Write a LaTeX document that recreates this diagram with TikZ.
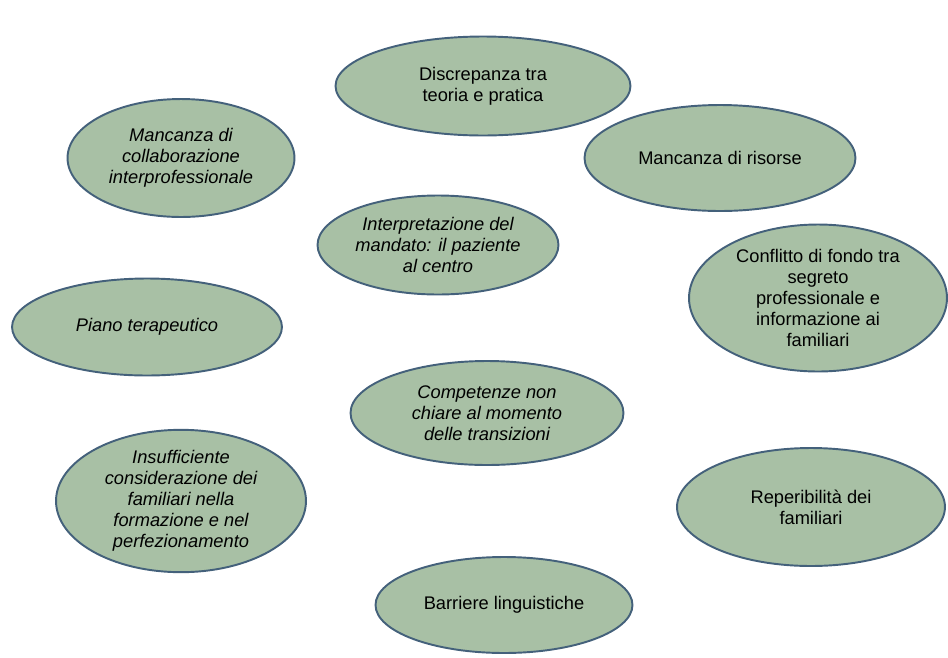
\documentclass[tikz,border=0pt]{standalone}
\usepackage{fontspec}
\setmainfont{Liberation Sans}
\usepackage{xcolor}
\usetikzlibrary{shapes.geometric,positioning}

\definecolor{sage}{HTML}{A8C0A5}
\definecolor{slateline}{HTML}{44617B}

\begin{document}
\begin{tikzpicture}[
  x=0.02cm, y=-0.02cm,
  every node/.style={font=\fontsize{10.4}{11.9}\selectfont},
  topic/.style={
    ellipse,
    draw=slateline,
    fill=sage,
    line width=1.1pt,
    align=center,
    inner sep=0pt
  },
  topicit/.style={topic, font=\fontsize{10.4}{11.9}\selectfont\itshape}
]
\useasboundingbox (0,0) rectangle (948,657);

\node[topic, minimum width=5.9cm, minimum height=1.98cm] (discrepanza) at (483,86)
  {Discrepanza tra\\teoria e pratica};
\node[topicit, minimum width=4.54cm, minimum height=2.36cm] (collaborazione) at (181,158)
  {Mancanza di\\collaborazione\\interprofessionale};
\node[topic, minimum width=5.42cm, minimum height=2.12cm] (risorse) at (720,158)
  {Mancanza di risorse};
\node[topicit, minimum width=4.82cm, minimum height=1.98cm] (mandato) at (438,245)
  {Interpretazione del\\mandato: il paziente\\al centro};
\node[topic, minimum width=5.16cm, minimum height=2.94cm] (conflitto) at (818,298)
  {Conflitto di fondo tra\\segreto\\professionale e\\informazione ai\\familiari};
\node[topicit, minimum width=5.4cm, minimum height=1.94cm] (piano) at (147,327)
  {Piano terapeutico};
\node[topicit, minimum width=5.46cm, minimum height=2.08cm] (competenze) at (487,413)
  {Competenze non\\chiare al momento\\delle transizioni};
\node[topicit, minimum width=5.0cm, minimum height=2.7cm] (familiari) at (181,501)
  {Insufficiente\\considerazione dei\\familiari nella\\formazione e nel\\perfezionamento};
\node[topic, minimum width=5.36cm, minimum height=2.36cm] (reperibilita) at (811,507)
  {Reperibilità dei\\familiari};
\node[topic, minimum width=5.14cm, minimum height=1.92cm] (barriere) at (504,605)
  {Barriere linguistiche};

\end{tikzpicture}
\end{document}
